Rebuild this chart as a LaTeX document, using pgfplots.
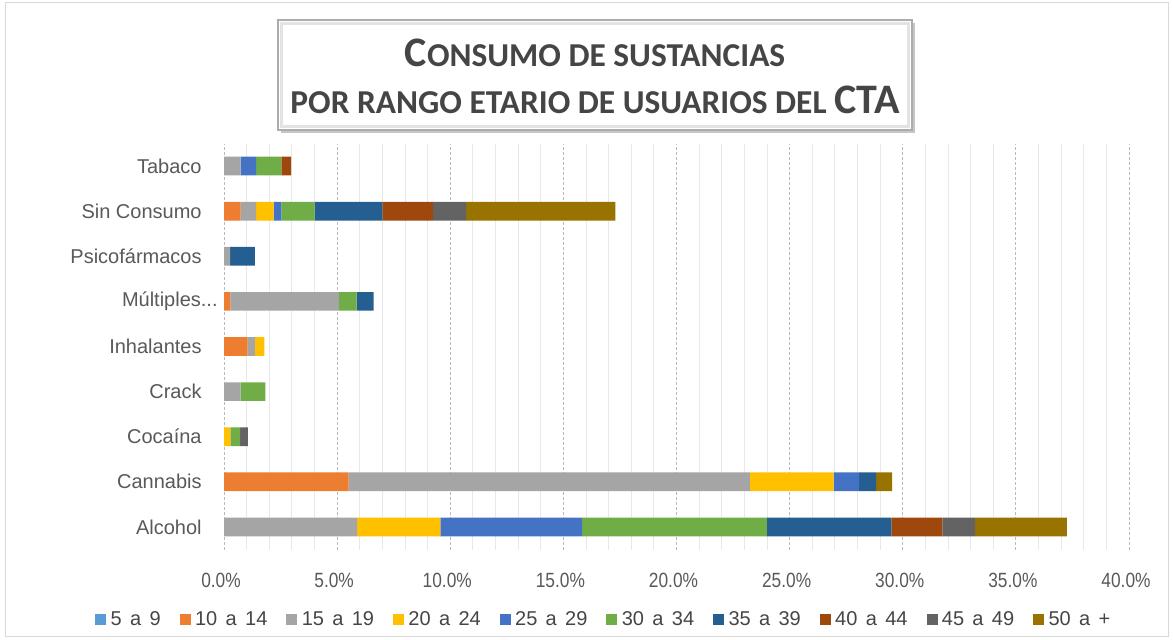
\documentclass[border=0pt]{standalone}
\usepackage{pgfplots}
\pgfplotsset{compat=1.18}
\usepackage{pgfplotstable}
\usepackage{fontspec}
\setmainfont{Liberation Sans}
\newfontfamily\tickfont[FakeStretch=0.84]{Liberation Sans}
\newfontfamily\legfont[WordSpace=1.5]{Liberation Sans}
\newfontfamily\titlefont{Carlito}
\usetikzlibrary{shadows}

\definecolor{cA}{HTML}{5B9BD5}
\definecolor{cB}{HTML}{ED7D31}
\definecolor{cC}{HTML}{A5A5A5}
\definecolor{cD}{HTML}{FFC000}
\definecolor{cE}{HTML}{4472C4}
\definecolor{cF}{HTML}{70AD47}
\definecolor{cG}{HTML}{255E91}
\definecolor{cH}{HTML}{9E480E}
\definecolor{cI}{HTML}{636363}
\definecolor{cJ}{HTML}{997300}
\definecolor{txt}{HTML}{595959}
\definecolor{ttl}{HTML}{454545}
\newcommand{\mult}{Múltiples{.}{.}{.}\hspace*{-8pt}}

% idx: 0 Alcohol, 1 Cannabis, 2 Cocaina, 3 Crack, 4 Inhalantes, 5 Multiples, 6 Psicofarmacos, 7 Sin Consumo, 8 Tabaco
\pgfplotstableread{
idx  s1  s2    s3     s4    s5    s6    s7    s8    s9    s10
0    0   0     5.88   3.68  6.27  8.16  5.51  2.25  1.45  4.05
1    0   5.51  17.73  3.70  1.13  0     0.75  0     0     0.71
2    0   0     0      0.28  0     0.43  0     0     0.34  0
3    0   0     0.74   0     0     1.09  0     0     0     0
4    0   1.04  0.33   0.42  0     0     0     0     0     0
5    0   0.28  4.80   0     0     0.78  0.75  0     0     0
6    0   0     0.27   0     0     0     1.10  0     0     0
7    0   0.74  0.68   0.77  0.35  1.46  3.00  2.24  1.46  6.60
8    0   0     0.74   0     0.68  1.12  0     0.43  0     0
}\datatable

\begin{document}
\begin{tikzpicture}
\path[use as bounding box] (0,0) rectangle (586.5pt,319.5pt);
\draw[gray!30, line width=0.5pt] (2.5pt,1.5pt) rectangle (584pt,318pt);

% title box
\draw[gray!65, line width=0.8pt, fill=white,
      drop shadow={shadow xshift=1.5pt, shadow yshift=-1.5pt, opacity=0.45}]
      (139pt,254.5pt) rectangle (456pt,309.5pt);
\draw[gray!22, line width=1.8pt] (140.7pt,256.2pt) rectangle (454.3pt,307.8pt);
\node[anchor=base, inner sep=0pt, text=ttl, font=\titlefont\bfseries] at (297.5pt,286.5pt)
  {{\fontsize{21}{24}\selectfont C}{\fontsize{16.7}{20}\selectfont ONSUMO DE SUSTANCIAS}};
\node[anchor=base, inner sep=0pt, text=ttl, font=\titlefont\bfseries] at (297.5pt,262.5pt)
  {{\fontsize{16.7}{20}\selectfont POR RANGO ETARIO DE USUARIOS DEL }{\fontsize{21}{24}\selectfont CTA}};

\begin{axis}[
  at={(112pt,44.75pt)}, anchor=south west,
  scale only axis, width=452.5pt, height=203pt,
  xbar stacked, bar width=9.35pt,
  xmin=0, xmax=40, ymin=-0.5, ymax=8.5,
  xtick={0,5,10,15,20,25,30,35,40}, minor x tick num=4,
  ytick={0,1,2,3,4,5,6,7,8},
  yticklabels={Alcohol,Cannabis,Cocaína,Crack,Inhalantes,\mult,Psicofármacos,Sin Consumo,Tabaco},
  axis line style={draw=none},
  major tick length=0pt, minor tick length=0pt,
  xmajorgrids, xminorgrids,
  major grid style={gray!55, line width=0.5pt, dash pattern=on 1.5pt off 1pt},
  minor grid style={gray!18, line width=0.5pt},
  /pgf/number format/assume math mode=true,
  xticklabel={\pgfmathprintnumber[fixed,fixed zerofill,precision=1]{\tick}\%},
  xticklabel style={font=\tickfont\fontsize{10.3}{12}\selectfont, text=txt, inner sep=0pt, anchor=north, yshift=-11.6pt, xshift=-1.5pt},
  yticklabel style={font=\fontsize{10}{12}\selectfont, text=txt, inner sep=0pt, anchor=east, xshift=-11pt},
  legend columns=10,
  legend style={at={(0.421,-0.173)}, anchor=center, draw=none, fill=none,
    font=\legfont\fontsize{10}{12}\selectfont, text=ttl,
    nodes={inner xsep=2.2pt, inner ysep=0pt},
    /tikz/every even column/.append style={column sep=7.3pt}},
  legend cell align=left,
  legend image code/.code={\fill[#1] (0pt,-2.75pt) rectangle (5.5pt,2.75pt);},
]
\addplot[fill=cA, draw=none] table[x=s1, y=idx] {\datatable};
\addplot[fill=cB, draw=none] table[x=s2, y=idx] {\datatable};
\addplot[fill=cC, draw=none] table[x=s3, y=idx] {\datatable};
\addplot[fill=cD, draw=none] table[x=s4, y=idx] {\datatable};
\addplot[fill=cE, draw=none] table[x=s5, y=idx] {\datatable};
\addplot[fill=cF, draw=none] table[x=s6, y=idx] {\datatable};
\addplot[fill=cG, draw=none] table[x=s7, y=idx] {\datatable};
\addplot[fill=cH, draw=none] table[x=s8, y=idx] {\datatable};
\addplot[fill=cI, draw=none] table[x=s9, y=idx] {\datatable};
\addplot[fill=cJ, draw=none] table[x=s10, y=idx] {\datatable};
\legend{5 a 9,10 a 14,15 a 19,20 a 24,25 a 29,30 a 34,35 a 39,40 a 44,45 a 49,50 a +}
\end{axis}
\end{tikzpicture}
\end{document}
